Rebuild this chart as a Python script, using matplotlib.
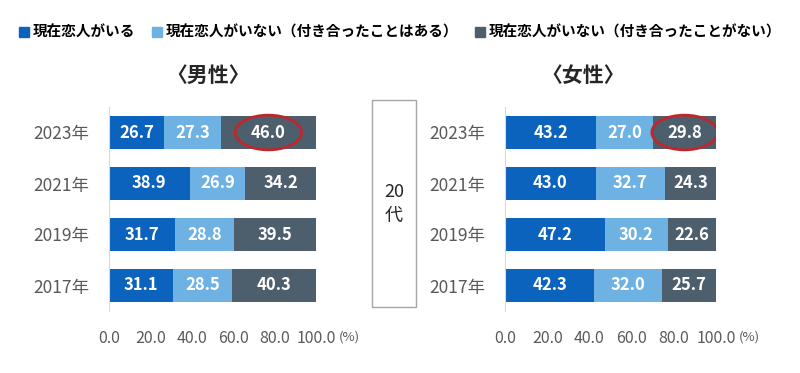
import numpy as np
import matplotlib
matplotlib.use("Agg")
import matplotlib.pyplot as plt
import matplotlib.transforms as mtransforms
from matplotlib.patches import Patch, Ellipse, Rectangle

plt.rcParams['font.family'] = ['Noto Sans CJK JP', 'DejaVu Sans']

# Données
annees = ["2023年", "2021年", "2019年", "2017年"]
series = ["現在恋人がいる",
          "現在恋人がいない（付き合ったことはある）",
          "現在恋人がいない（付き合ったことがない）"]
homme = [[26.7, 38.9, 31.7, 31.1],
         [27.3, 26.9, 28.8, 28.5],
         [46.0, 34.2, 39.5, 40.3]]
femme = [[43.2, 43.0, 47.2, 42.3],
         [27.0, 32.7, 30.2, 32.0],
         [29.8, 24.3, 22.6, 25.7]]
xticks = [0, 20, 40, 60, 80, 100]
couleurs = ["#0B63BD", "#6EB2E4", "#4D5E6C"]
gris = "#595959"

W, H = 800, 373
fig = plt.figure(figsize=(8, 3.73), dpi=100)


def tracer(ax, data, cercle):
    y = np.arange(len(annees))
    gauche = np.zeros(len(annees))
    for k, vals in enumerate(data):
        vals = np.array(vals)
        ax.barh(y, vals, left=gauche, height=0.66, color=couleurs[k])
        for yi, l, v in zip(y, gauche, vals):
            ax.text(l + v / 2, yi, f"{v:.1f}", ha="center", va="center",
                    color="white", fontsize=12, fontweight="bold")
        gauche = gauche + vals
    ax.set_xlim(0, 100)
    ax.set_ylim(len(annees) - 0.5, -0.5)
    ax.set_yticks(y)
    ax.set_yticklabels(annees, fontsize=12.5, color=gris)
    ax.set_xticks(xticks)
    ax.set_xticklabels([f"{t:.1f}" for t in xticks], fontsize=11.5, color=gris)
    ax.tick_params(length=0, axis="y", pad=14)
    ax.tick_params(length=0, axis="x", pad=14)
    for s in ["top", "right", "bottom"]:
        ax.spines[s].set_visible(False)
    ax.spines["left"].set_color("#D9D9D9")
    # cercle rouge autour du dernier segment 2023
    cx = data[0][0] + data[1][0] + data[2][0] / 2
    ax.add_patch(Ellipse((cx, 0), cercle, 0.68, angle=0, fill=False,
                         edgecolor="#C0272D", lw=2, zorder=5))
    # unité (%) à côté du dernier tick
    trans = mtransforms.blended_transform_factory(ax.transData, fig.transFigure)
    ax.text(111, 1 - 337 / H, "(%)", fontsize=9.5, color=gris,
            ha="left", va="center", transform=trans)


ax1 = fig.add_axes([109 / W, (H - 311) / H, 207 / W, 204 / H])
tracer(ax1, homme, 32)
ax2 = fig.add_axes([505 / W, (H - 311) / H, 211 / W, 204 / H])
tracer(ax2, femme, 31)

# Titres
fig.text(208 / W, 1 - 75 / H, "〈男性〉", ha="center", va="center",
         fontsize=15, fontweight="bold", color="#262626")
fig.text(583 / W, 1 - 75 / H, "〈女性〉", ha="center", va="center",
         fontsize=15, fontweight="bold", color="#262626")

# Boîte 20代
fig.patches.append(Rectangle((372 / W, 1 - 307 / H), 44 / W, 207 / H,
                             transform=fig.transFigure, fill=False,
                             edgecolor="#A6A6A6", lw=1))
fig.text(394 / W, 1 - 192 / H, "20", ha="center", va="center",
         fontsize=13, color="#262626")
fig.text(394 / W, 1 - 216 / H, "代", ha="center", va="center",
         fontsize=13, color="#262626")

# Légende
poignees = [Patch(color=c) for c in couleurs]
fig.legend(poignees, series, loc="center", bbox_to_anchor=(0.5, 1 - 32 / H),
           ncol=3, frameon=False, handlelength=0.7, handleheight=0.7,
           handletextpad=0.2, columnspacing=1.2,
           prop={"size": 10.5, "weight": "bold"})

plt.savefig("out.png", dpi=100)
